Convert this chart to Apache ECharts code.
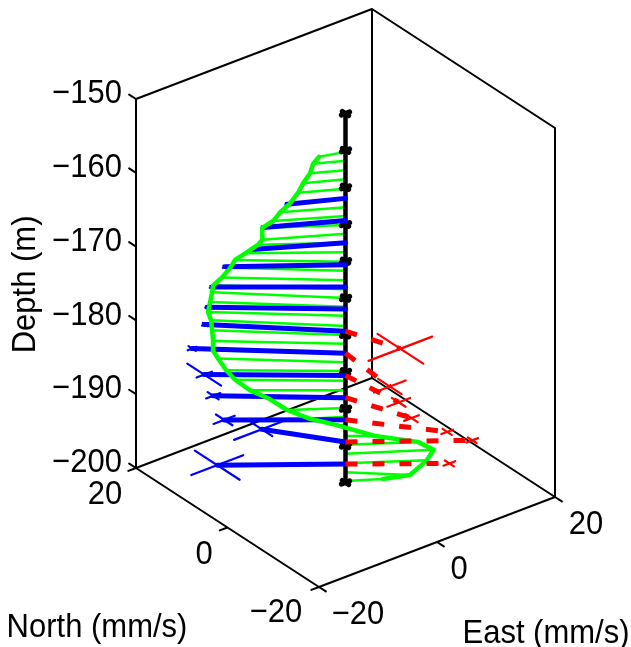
<!DOCTYPE html>
<html>
<head>
<meta charset="utf-8">
<title>Velocity profile</title>
<style>
html,body{margin:0;padding:0;background:#fff;}
#main{width:631px;height:647px;}
</style>
<script src="https://cdn.jsdelivr.net/npm/echarts@6/dist/echarts.min.js"></script>
</head>
<body>
<div id="main"></div>
<script>
//tick labels
var depthTicks=[-150,-160,-170,-180,-190,-200];
var northTicks=[20,0,-20];
var eastTicks=[-20,0,20];
var spineMarks=[-150,-155,-160,-165,-170,-175,-180,-185,-190,-195,-200];

//green profile (mm/s at each depth)
var greenDepth=[-155.2,-156.4,-157.7,-158.9,-160.2,-161.5,-162.7,-163.9,-165.1,-166.3,-167.5,-168.8,-170.1,-171.3,-172.6,-173.8,-175,-176.2,-177.4,-178.8,-180,-181.2,-182.5,-183.7,-184.9,-186.2,-187.5,-188.7,-189.9,-191.1,-192.3,-193.7,-194.9,-196.1,-197.4,-198.6,-199.8];
var greenNorth=[1.09,1.99,2.23,2.58,2.99,3.29,4.23,4.79,6.09,5.47,6.63,7.88,9.31,9.92,10.57,11.5,12,11.95,11.91,12.08,11.79,11.29,11.3,11.1,9.83,9.11,7.69,6.45,4.29,2.44,1.06,-2.37,-5.21,-6.28,-5.93,-5.82,-2.6];
var greenEast=[-3.62,-3.94,-4.26,-5.17,-5.7,-6.98,-7.78,-8.53,-9.39,-9.86,-9.66,-10.89,-11.49,-11.86,-12.72,-13.52,-13.31,-13.68,-14.06,-13.42,-13.47,-13.68,-13.7,-12.99,-12.6,-11.64,-10.2,-8.12,-6.57,-4.11,-0.96,3.15,8.21,10.08,9.17,6.42,4.32];

//blue vectors and their error bars
var blueDepth=[-161.5,-164.5,-167.5,-170.5,-173.5,-176.5,-179.5,-182.5,-185.5,-188.5,-191.5,-194.5,-197.5];
var blueNorth=[3.46,5.18,6.07,9.28,10.75,11.57,12.77,13.41,11.6,11.09,9.78,9.44,10.13];
var blueEast=[-7.2,-9.91,-11.09,-13.19,-14.26,-14.47,-13.91,-15.6,-14.95,-13.83,-12.98,-6.87,-13.88];
var blueErrNorth=[0.3,0.3,0.3,0.4,0.4,0.3,0.5,0.8,3.7,1.2,1.8,2.3,4.9];
var blueErrEast=[0.3,0.3,0.3,0.4,0.4,0.3,0.5,0.75,1.3,1.2,1.8,4.7,4.4];

//red vectors and their error bars
var redDepth=[-179.5,-182.5,-185.5,-188.5,-191.5,-194.5,-197.5];
var redNorth=[-8.15,-10.61,-9.98,-9.66,-10.78,-9.91,-8.27];
var redEast=[2.98,-0.71,1.28,3.69,8.87,13.8,11.19];
var redErrNorth=[5,2.56,1.5,1.36,1,0.96,1];
var redErrEast=[5.4,2.68,1.94,1.25,0.98,0.98,1];

//3d -> plot coordinates, box corners
var project=function(north,east,depth){
    return [
        345.5-4.575*north+5.9*east,
        482.5-2.975*north-2.25*east-7.38*(depth+200)
    ];
};

var GAP=['-','-'];
//list of 3d segments -> one line series with gaps
var segSeries=function(segs,color,width,z,dash){
    var data=[];
    for(var i=0;i<segs.length;i++){
        for(var j=0;j<segs[i].length;j++){
            data.push(project(segs[i][j][0],segs[i][j][1],segs[i][j][2]));
        }
        data.push(GAP);
    }
    return {
        type:'line',
        data:data,
        z:z,
        silent:true,
        clip:false,
        animation:false,
        showSymbol:false,
        symbol:'none',
        connectNulls:false,
        lineStyle:{color:color,width:width,type:dash||'solid',cap:dash?'butt':'round',join:'round'}
    };
};
var sticks=function(depth,north,east){
    var segs=[];
    for(var i=0;i<depth.length;i++){
        segs.push([[0,0,depth[i]],[north[i],east[i],depth[i]]]);
    }
    return segs;
};
var crosses=function(depth,north,east,errN,errE){
    var segs=[];
    for(var i=0;i<depth.length;i++){
        segs.push([[north[i]-errN[i],east[i],depth[i]],[north[i]+errN[i],east[i],depth[i]]]);
        segs.push([[north[i],east[i]-errE[i],depth[i]],[north[i],east[i]+errE[i],depth[i]]]);
    }
    return segs;
};

//box edges
var boxSegs=[
    [[20,-20,-150],[20,-20,-200],[-20,-20,-200],[-20,20,-200],[-20,20,-150],[20,20,-150],[20,-20,-150]],
    [[20,-20,-200],[20,20,-200],[-20,20,-200]],
    [[20,20,-200],[20,20,-150]]
];
//ticks
var i;
for(i=0;i<depthTicks.length;i++){
    boxSegs.push([[20,-20,depthTicks[i]],[21.5,-20,depthTicks[i]]]);
}
for(i=0;i<northTicks.length;i++){
    boxSegs.push([[northTicks[i],-20,-200],[northTicks[i],-21.3,-200]]);
}
for(i=0;i<eastTicks.length;i++){
    boxSegs.push([[-20,eastTicks[i],-200],[-21.5,eastTicks[i],-200]]);
}

//spine + its small markers
var zeroes=[];
var markErr=[];
for(i=0;i<spineMarks.length;i++){
    zeroes.push(0);
    markErr.push(0.7);
}

//texts: [north,east,depth,dx,dy,text,rotate]
var minus=function(v){
    return v<0?'\u2212'+(-v):''+v;
};
var textData=[];
for(i=0;i<depthTicks.length;i++){
    textData.push([20,-20,depthTicks[i],-49,-5,minus(depthTicks[i]),0]);
}
var northDx=[-31,-23.5,-43];
var northDy=[27,27,26];
var eastDx=[39,22,31];
for(i=0;i<northTicks.length;i++){
    textData.push([northTicks[i],-20,-200,northDx[i],northDy[i],minus(northTicks[i]),0]);
    textData.push([-20,eastTicks[i],-200,eastDx[i],28,minus(eastTicks[i]),0]);
}
textData.push([-20,-20,-200,-222,41,'North (mm/s)',0]);
textData.push([-20,-20,-200,227,47,'East (mm/s)',0]);
textData.push([20,-20,-180,-110,-36,'Depth (m)',1]);

var textSeries={
    type:'custom',
    coordinateSystem:'cartesian2d',
    silent:true,
    clip:false,
    animation:false,
    z:10,
    encode:{x:0,y:1},
    data:textData.map(function(t){
        var p=project(t[0],t[1],t[2]);
        return [p[0]+t[3],p[1]+t[4],t[5],t[6]];
    }),
    renderItem:function(params,api){
        var pos=api.coord([api.value(0),api.value(1)]);
        var rot=api.value(3)===1;
        return {
            type:'text',
            x:pos[0],
            y:pos[1],
            rotation:rot?Math.PI/2:0,
            scaleX:1,
            scaleY:1.08,
            style:{
                text:textData[params.dataIndex][5],
                fontFamily:'"Liberation Sans",Arial,sans-serif',
                fontSize:31,
                fill:'#000',
                align:'center',
                verticalAlign:'middle'
            }
        };
    }
};

var myChart=echarts.init(document.getElementById('main'));
myChart.setOption({
    backgroundColor:'#fff',
    grid:{left:0,right:0,top:0,bottom:0},
    xAxis:{type:'value',min:0,max:631,show:false},
    yAxis:{type:'value',min:0,max:647,inverse:true,show:false},
    series:[
        segSeries(boxSegs,'#000',2,1),
        segSeries(sticks(greenDepth,greenNorth,greenEast),'#00ff00',2.5,2),
        segSeries([[[0,0,-150],[0,0,-200]]],'#000',4.5,3),
        segSeries(crosses(spineMarks,zeroes,zeroes,markErr,markErr),'#000',5,3),
        segSeries(sticks(blueDepth,blueNorth,blueEast),'#0000ff',5,4),
        segSeries(crosses(blueDepth,blueNorth,blueEast,blueErrNorth,blueErrEast),'#0000ff',2.2,4),
        segSeries([greenDepth.map(function(d,k){return [greenNorth[k],greenEast[k],d];})],'#00ff00',4.5,5),
        segSeries(sticks(redDepth,redNorth,redEast),'#ff0000',5,6,[12,15]),
        segSeries(crosses(redDepth,redNorth,redEast,redErrNorth,redErrEast),'#ff0000',2.2,6),
        textSeries
    ]
});
</script>
</body>
</html>
